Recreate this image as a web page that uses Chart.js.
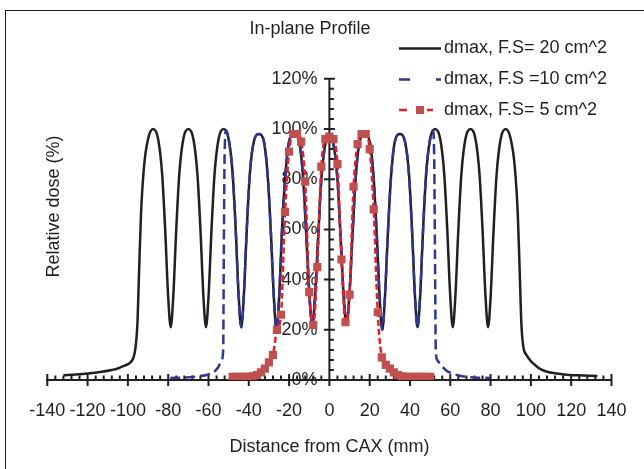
<!DOCTYPE html>
<html>
<head>
<meta charset="utf-8">
<title>In-plane Profile</title>
<script src="https://cdn.jsdelivr.net/npm/chart.js@4.4.1/dist/chart.umd.min.js"></script>
<style>
  html, body { margin: 0; padding: 0; background: #fff; }
  #c { display: block; }
</style>
</head>
<body>
<canvas id="c" width="644" height="469"></canvas>
<script>
// values (mm, % of dose)
const chartTitle = 'In-plane Profile';
const xTitle = 'Distance from CAX (mm)';
const yTitle = 'Relative dose (%)';
const seriesNames = ['dmax, F.S= 20 cm^2', 'dmax, F.S =10 cm^2', 'dmax, F.S= 5 cm^2'];

const blackX = [-132, -126, -120, -113, -108, -105, -102, -99, -97.2, -96.2, -95.3, -94.5, -93.5, -92, -90, -87.5,
  -85, -83, -81.5, -80, -78.75, -77.5, -76, -74.5, -72.5, -70,
  -67.5, -65.5, -64, -62.5, -61.25, -60, -58.5, -57, -55, -52.5,
  -50, -48, -46.5, -45, -43.75, -42.5, -41, -39.5, -37.5, -35,
  -32.5, -30.5, -29, -27.5, -26.25, -25, -23.5, -22, -20, -17.5,
  -15, -13, -11.5, -10, -8.5, -7, -5.5, -4, -2, 0,
  2, 4, 5.5, 7, 8.5, 10, 11.5, 13, 15, 17.5,
  20, 22, 23.5, 25, 26.25, 27.5, 29, 30.5, 32.5, 35,
  37.5, 39.5, 41, 42.5, 43.75, 45, 46.5, 48, 50, 52.5,
  55, 57, 58.5, 60, 61.25, 62.5, 64, 65.5, 67.5, 70,
  72.5, 74.5, 76, 77.5, 78.75, 80, 81.5, 83, 85, 87.5,
  90, 92, 93.5, 94.5, 95.3, 96.3, 97.8, 100, 102, 105, 108, 113, 119, 126, 133];
const blackY = [1.9, 2.2, 2.6, 3.3, 4, 4.6, 5.6, 6.8, 9, 13, 22, 42, 66, 85, 96, 100,
  96, 82, 60, 33, 21, 33, 60, 82, 96, 100,
  96, 82, 60, 33, 21, 33, 60, 82, 96, 100,
  96, 82, 60, 33, 21, 33, 60, 82, 95, 98,
  95, 80, 58, 32, 20, 32, 60, 80, 95, 98,
  95, 80, 58, 35, 22, 35, 58, 80, 94, 97,
  94, 80, 58, 35, 22, 35, 58, 80, 95, 98,
  95, 80, 58, 32, 20, 32, 58, 80, 95, 98,
  95, 82, 60, 33, 21, 33, 60, 82, 96, 100,
  96, 82, 60, 33, 21, 33, 60, 82, 96, 100,
  96, 82, 60, 33, 21, 33, 60, 82, 96, 100,
  96, 85, 66, 42, 22, 13, 10, 7.5, 6, 4.2, 3.3, 2.6, 2, 1.8, 1.6];

const blueX = [-79, -72, -66, -61, -57, -55, -53.5, -52.7, -52.4, -52, -51.3,
  -50, -48, -46.5, -45, -43.75, -42.5, -41, -39.5, -37.5, -35,
  -32.5, -30.5, -29, -27.5, -26.25, -25, -23.5, -22, -20, -17.5,
  -15, -13, -11.5, -10, -8.5, -7, -5.5, -4, -2, 0,
  2, 4, 5.5, 7, 8.5, 10, 11.5, 13, 15, 17.5,
  20, 22, 23.5, 25, 26.25, 27.5, 29, 30.5, 32.5, 35,
  37.5, 39.5, 41, 42.5, 43.75, 45, 46.5, 48, 50,
  51.3, 52, 52.4, 52.8, 53.5, 55, 58, 61, 66, 72, 80];
const blueY = [0.8, 1, 1.4, 2, 3.4, 5.3, 8, 12, 50, 90, 99.5,
  96, 82, 60, 33, 21, 33, 60, 82, 95, 98,
  95, 80, 58, 32, 20, 32, 60, 80, 95, 98,
  95, 80, 58, 35, 22, 35, 58, 80, 94, 97,
  94, 80, 58, 35, 22, 35, 58, 80, 95, 98,
  95, 80, 58, 32, 20, 32, 58, 80, 95, 98,
  95, 82, 60, 33, 21, 33, 60, 82, 96,
  99.5, 90, 50, 12, 8, 6.3, 3.8, 2.6, 1.5, 1, 0.8];

const redX = [-48, -46, -44, -42, -40, -38, -36, -34, -32, -30, -28, -26, -24, -22, -20, -18, -16, -14, -12, -10,
  -8, -6, -4, -2, 0, 2, 4, 6, 8, 10, 12, 14, 16, 18, 20, 22, 24, 26, 28, 30,
  32, 34, 36, 38, 40, 42, 44, 46, 48, 50];
const redY = [1.3, 1.3, 1.3, 1.3, 1.3, 1.5, 2, 3, 4.5, 7, 10, 20, 26, 67, 91, 98, 98, 95, 79, 35,
  22, 45, 85, 96, 97, 96, 86, 48, 23, 34, 77, 94, 98, 98, 92, 68, 27, 9, 6, 4.5,
  3, 2, 1.5, 1.3, 1.3, 1.3, 1.3, 1.3, 1.3, 1.3];

const ink = '#231f20';
const font = '"Liberation Sans", Arial, Helvetica, sans-serif';

Chart.defaults.font.family = font;
Chart.defaults.font.size = 18;
Chart.defaults.color = ink;

function pts(xs, ys) {
  return xs.map((x, i) => ({ x: x, y: ys[i] }));
}

// frame, axis lines, tick marks, titles and the legend
const decor = {
  id: 'decor',
  beforeDraw(chart) {
    const ctx = chart.ctx;
    ctx.save();
    ctx.strokeStyle = ink;
    ctx.lineWidth = 1;
    ctx.strokeRect(5.5, 10.5, 800, 600);
    ctx.restore();
  },
  beforeDatasetsDraw(chart) {
    const ctx = chart.ctx;
    const xs = chart.scales.x, ys = chart.scales.y;
    const x0 = xs.getPixelForValue(0), y0 = ys.getPixelForValue(0);
    ctx.save();
    ctx.strokeStyle = ink;
    ctx.lineWidth = 2;
    ctx.beginPath();
    ctx.moveTo(x0, ys.getPixelForValue(120) - 1);
    ctx.lineTo(x0, y0);
    for (let v = -140; v <= 140; v += 4) {
      const px = xs.getPixelForValue(v);
      if (v % 20 === 0) { ctx.moveTo(px, y0 - 6); ctx.lineTo(px, y0 + 6); }
      else { ctx.moveTo(px, y0); ctx.lineTo(px, y0 - 4.5); }
    }
    for (let v = 0; v <= 120; v += 4) {
      const py = ys.getPixelForValue(v);
      if (v % 20 === 0) { ctx.moveTo(x0 - 5.5, py); ctx.lineTo(x0 + 5.5, py); }
      else { ctx.moveTo(x0, py); ctx.lineTo(x0 + 4.5, py); }
    }
    ctx.stroke();
    ctx.restore();
  },
  afterDraw(chart) {
    const ctx = chart.ctx;
    const ds = chart.data.datasets;
    const area = chart.chartArea;
    ctx.save();
    ctx.fillStyle = ink;
    ctx.font = '18px ' + font;
    ctx.textBaseline = 'middle';
    ctx.textAlign = 'center';
    ctx.fillText(chartTitle, 310, 29);
    ctx.fillText(xTitle, (area.left + area.right) / 2, 447);

    ctx.save();
    ctx.translate(54, 206.5);
    ctx.rotate(-Math.PI / 2);
    ctx.fillText(yTitle, 0, 0);
    ctx.restore();

    // legend: black, blue, red (datasets are stored red, blue, black)
    const rows = [
      { d: ds[2], y: 48.5, text: seriesNames[0] },
      { d: ds[1], y: 79.5, text: seriesNames[1] },
      { d: ds[0], y: 110, text: seriesNames[2] }
    ];
    ctx.textAlign = 'left';
    rows.forEach(r => {
      ctx.save();
      ctx.strokeStyle = r.d.borderColor;
      ctx.lineWidth = r.d.borderWidth;
      if (r.d === ds[1]) ctx.setLineDash([11, 26]);
      if (r.d === ds[0]) ctx.setLineDash([8, 20]);
      ctx.beginPath();
      ctx.moveTo(399, r.y);
      ctx.lineTo(r.d === ds[0] ? 433 : 441, r.y);
      ctx.stroke();
      ctx.setLineDash([]);
      if (r.d === ds[0]) {
        ctx.fillStyle = r.d.pointBackgroundColor;
        ctx.fillRect(416, r.y - 4, 8, 8);
      }
      ctx.restore();
      ctx.fillText(r.text, 444, r.y);
    });
    ctx.restore();
  }
};

new Chart(document.getElementById('c'), {
  type: 'line',
  data: {
    datasets: [
      {
        label: seriesNames[2],
        data: pts(redX, redY),
        borderColor: '#ed1c24',
        borderWidth: 2.5,
        borderDash: [6, 3],
        cubicInterpolationMode: 'monotone',
        pointStyle: 'rect',
        pointRadius: 5.8,
        pointBackgroundColor: '#c0504d',
        pointBorderColor: '#c0504d',
        pointBorderWidth: 0
      },
      {
        label: seriesNames[1],
        data: pts(blueX, blueY),
        borderColor: '#2b3990',
        borderWidth: 2.5,
        borderDash: [10, 5],
        cubicInterpolationMode: 'monotone',
        pointRadius: 0
      },
      {
        label: seriesNames[0],
        data: pts(blackX, blackY),
        borderColor: ink,
        borderWidth: 2.5,
        cubicInterpolationMode: 'monotone',
        pointRadius: 0
      }
    ]
  },
  options: {
    responsive: false,
    devicePixelRatio: 1,
    animation: false,
    layout: { padding: { left: 47.3, right: 32.5, top: 78.8, bottom: 89 } },
    plugins: {
      legend: { display: false },
      tooltip: { enabled: false }
    },
    scales: {
      x: {
        type: 'linear',
        position: { y: 0 },
        min: -140,
        max: 140,
        ticks: { stepSize: 20, autoSkip: false, maxRotation: 0, padding: 17.5, color: ink,
          font: { size: 18, lineHeight: 1.5 } },
        grid: { drawOnChartArea: false, drawTicks: false, color: 'rgba(0,0,0,0)' },
        border: { display: true, color: ink, width: 2 }
      },
      y: {
        type: 'linear',
        // labels sit 12px left of the axis line, which is drawn at x = 0 by the plugin
        position: { x: -5.9 },
        min: 0,
        max: 120,
        ticks: { stepSize: 20, color: ink, callback: v => v + '%' },
        grid: { drawOnChartArea: false, drawTicks: false, color: 'rgba(0,0,0,0)' },
        border: { display: false }
      }
    }
  },
  plugins: [decor]
});
</script>
</body>
</html>
